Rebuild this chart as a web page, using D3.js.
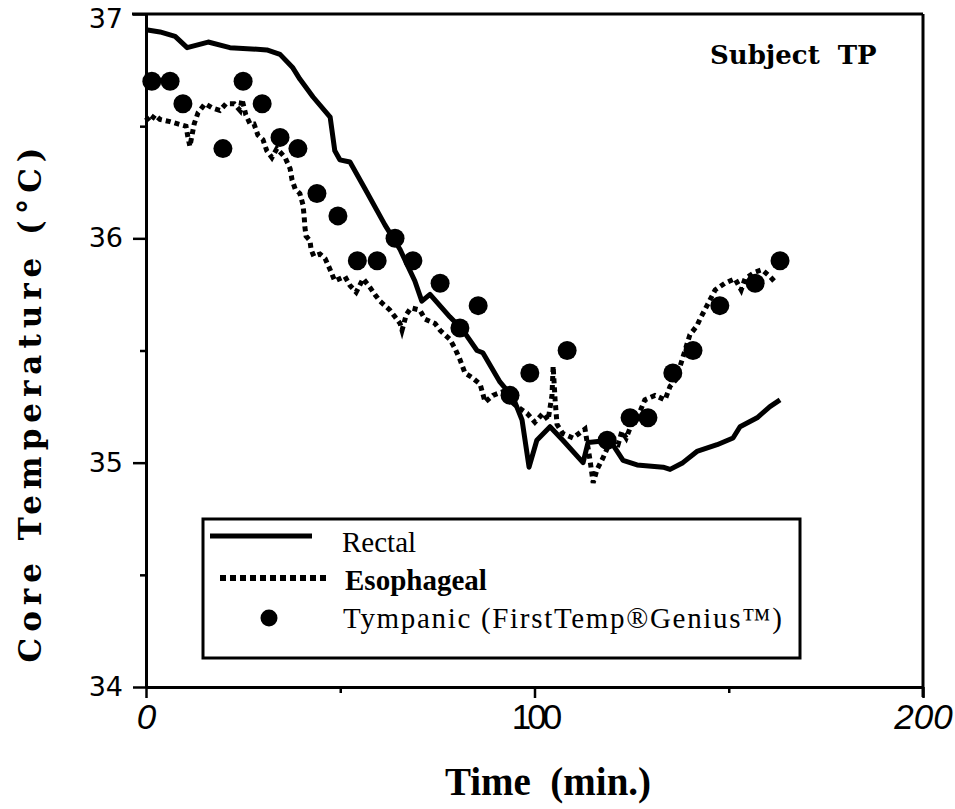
<!DOCTYPE html>
<html>
<head>
<meta charset="utf-8">
<script src="https://cdn.jsdelivr.net/npm/d3@7"></script>
<style>
  body { margin: 0; background: #fff; }
  svg { display: block; }
</style>
</head>
<body>
<div id="chart"></div>
<script>
// Values: [time (min), core temperature (°C)]
var rectal = [
  [0, 36.93], [3.6, 36.92], [7.5, 36.90], [10.6, 36.85], [16.0, 36.875], [21.6, 36.85],
  [31.1, 36.84], [34.5, 36.82], [37.8, 36.76], [39.6, 36.71], [43.0, 36.63], [47.4, 36.54],
  [48.6, 36.39], [49.9, 36.35], [52.5, 36.34], [56.4, 36.22], [61.5, 36.06], [65.4, 35.95],
  [69.2, 35.81], [71.0, 35.72], [73.1, 35.75], [78.2, 35.65], [81.6, 35.59], [85.2, 35.50],
  [86.7, 35.49], [91.1, 35.36], [94.5, 35.29], [96.8, 35.19], [98.6, 34.98], [100.6, 35.10],
  [104.0, 35.16], [107.3, 35.10], [112.5, 35.00], [113.8, 35.09], [119.4, 35.10], [122.8, 35.01],
  [126.4, 34.99], [133.1, 34.98], [134.9, 34.97], [138.2, 35.00], [141.8, 35.05], [147.0, 35.08],
  [151.1, 35.11], [152.9, 35.16], [157.3, 35.20], [160.6, 35.25], [163.2, 35.28]
];

var esophageal = [
  [0, 36.54], [1.0, 36.52], [2.3, 36.55], [3.6, 36.53], [6.2, 36.52], [8.2, 36.51],
  [10.3, 36.50], [10.8, 36.45], [11.3, 36.41], [12.4, 36.51], [13.4, 36.56], [15.2, 36.60],
  [17.2, 36.58], [19.0, 36.57], [20.6, 36.60], [22.7, 36.60], [24.2, 36.57], [24.7, 36.62],
  [25.7, 36.55], [26.8, 36.51], [27.8, 36.51], [28.8, 36.46], [30.1, 36.44], [31.1, 36.39],
  [32.4, 36.36], [33.7, 36.40], [35.8, 36.36], [37.1, 36.31], [37.6, 36.26], [38.4, 36.22],
  [39.6, 36.20], [40.4, 36.15], [40.7, 36.10], [40.9, 36.05], [41.2, 36.01], [42.2, 35.99],
  [42.5, 35.95], [43.2, 35.92], [44.8, 35.93], [46.1, 35.91], [47.4, 35.86], [48.6, 35.81],
  [51.2, 35.83], [52.5, 35.79], [54.1, 35.76], [55.9, 35.82], [57.7, 35.78], [58.9, 35.75],
  [60.2, 35.72], [61.5, 35.70], [62.8, 35.68], [64.1, 35.65], [65.4, 35.62], [65.9, 35.59],
  [67.0, 35.66], [68.2, 35.69], [70.5, 35.68], [71.8, 35.64], [74.4, 35.62], [75.7, 35.59],
  [78.2, 35.55], [79.5, 35.51], [80.8, 35.46], [82.1, 35.40], [83.9, 35.38], [86.0, 35.35],
  [87.3, 35.27], [89.3, 35.30], [92.4, 35.32], [94.2, 35.27], [95.5, 35.25], [98.1, 35.22],
  [100.1, 35.18], [102.2, 35.22], [103.5, 35.19], [104.5, 35.30], [104.8, 35.43], [105.3, 35.28],
  [105.8, 35.17], [107.3, 35.13], [109.9, 35.11], [113.0, 35.15], [114.3, 35.01], [115.1, 34.91],
  [116.1, 34.97], [117.6, 35.02], [119.4, 35.09], [121.5, 35.08], [122.5, 35.14], [123.6, 35.11],
  [125.4, 35.19], [127.2, 35.23], [128.4, 35.28], [131.0, 35.30], [133.6, 35.28], [134.9, 35.34],
  [136.4, 35.37], [138.2, 35.47], [140.0, 35.57], [141.8, 35.61], [142.6, 35.64], [144.4, 35.70],
  [146.5, 35.77], [149.0, 35.80], [151.6, 35.82], [153.2, 35.77], [154.2, 35.82], [156.8, 35.85],
  [158.6, 35.86], [160.6, 35.83], [162.2, 35.80]
];

var tympanic = [
  [1.5, 36.7], [6.2, 36.7], [9.5, 36.6], [19.8, 36.4], [25.0, 36.7], [29.9, 36.6],
  [34.5, 36.45], [39.1, 36.4], [44.0, 36.2], [49.4, 36.1], [54.4, 35.9], [59.5, 35.9],
  [64.1, 36.0], [68.7, 35.9], [75.7, 35.8], [80.8, 35.6], [85.5, 35.7], [93.7, 35.3],
  [98.8, 35.4], [108.4, 35.5], [118.7, 35.1], [124.6, 35.2], [129.2, 35.2], [135.6, 35.4],
  [140.8, 35.5], [147.7, 35.7], [156.8, 35.8], [163.2, 35.9]
];

var yTicks = [34, 35, 36, 37];
var yMinorTicks = [34.5, 35.5, 36.5];
var xTicks = [0, 100, 200];
var xMinorTicks = [50, 150];
var legendLabels = ["Rectal", "Esophageal", "Tympanic (FirstTemp®Genius™)"];

// Margins and plot area
var margin = { top: 14, right: 32, bottom: 122, left: 146 },
    width = 955 - margin.left - margin.right,
    height = 809 - margin.top - margin.bottom;

var svg = d3.select('#chart').append('svg')
    .attr('width', 955)
    .attr('height', 809)
  .append('g')
    .attr('transform', 'translate(' + margin.left + ',' + margin.top + ')');

var x = d3.scaleLinear().domain([0, 200]).range([0, width]);
var y = d3.scaleLinear().domain([34, 37]).range([height, 0]);

// frame top and right
svg.append("line")
    .attr("x1", -14).attr("x2", width)
    .attr("y1", 0).attr("y2", 0)
    .attr("stroke", "#000").attr("stroke-width", 3);
svg.append("line")
    .attr("x1", width).attr("x2", width)
    .attr("y1", 0).attr("y2", height + 10)
    .attr("stroke", "#000").attr("stroke-width", 3);

// Y axis
var yAxis = svg.append("g")
    .call(d3.axisLeft(y).tickValues(yTicks).tickSize(13).tickSizeOuter(0)
      .tickPadding(10).tickFormat(d3.format("d")));
svg.append("g")
    .call(d3.axisLeft(y).tickValues(yMinorTicks).tickSize(6).tickSizeOuter(0).tickFormat(""));
yAxis.selectAll("text")
    .attr("font-family", "DejaVu Sans")
    .attr("font-size", 27)
    .attr("fill", "#000")
    .attr("dy", function (d) { return d === 37 ? "0.5em" : "0.32em"; });

// X axis
var xAxis = svg.append("g")
    .attr("transform", "translate(0," + height + ")")
    .call(d3.axisBottom(x).tickValues(xTicks).tickSize(11).tickSizeOuter(0).tickPadding(6));
svg.append("g")
    .attr("transform", "translate(0," + height + ")")
    .call(d3.axisBottom(x).tickValues(xMinorTicks).tickSize(6).tickSizeOuter(0).tickFormat(""));
xAxis.selectAll("text")
    .attr("font-family", "Liberation Sans")
    .attr("font-size", 35)
    .attr("fill", "#000")
    .style("font-style", function (d) { return d === 100 ? "normal" : "italic"; })
    .attr("letter-spacing", function (d) { return d === 100 ? -4 : 0; });

svg.selectAll(".domain").attr("stroke-width", 3);
svg.selectAll(".tick line").attr("stroke-width", 2.5);

// Series
var line = d3.line()
    .x(function (d) { return x(d[0]); })
    .y(function (d) { return y(d[1]); });

svg.append("path")
    .datum(esophageal)
    .attr("d", line)
    .attr("fill", "none")
    .attr("stroke", "#000")
    .attr("stroke-width", 5)
    .attr("stroke-dasharray", "5,4");

svg.append("path")
    .datum(rectal)
    .attr("d", line)
    .attr("fill", "none")
    .attr("stroke", "#000")
    .attr("stroke-width", 5)
    .attr("stroke-linejoin", "round");

svg.selectAll("circle.tymp")
    .data(tympanic)
    .enter().append("circle")
    .attr("class", "tymp")
    .attr("r", 9.5)
    .attr("fill", "#000")
    .attr("cx", function (d) { return x(d[0]); })
    .attr("cy", function (d) { return y(d[1]); });

// Subject label
svg.append("text")
    .attr("x", 564).attr("y", 50)
    .attr("font-family", "DejaVu Serif")
    .attr("font-weight", "bold")
    .attr("font-size", 26)
    .style("white-space", "pre")
    .text("Subject  TP");

// Legend
var legend = svg.append("g").attr("transform", "translate(57,505)");
legend.append("rect")
    .attr("width", 597).attr("height", 139)
    .attr("fill", "#fff")
    .attr("stroke", "#000").attr("stroke-width", 3);
legend.append("line")
    .attr("x1", 7).attr("x2", 109).attr("y1", 17).attr("y2", 17)
    .attr("stroke", "#000").attr("stroke-width", 5);
legend.append("line")
    .attr("x1", 17).attr("x2", 126).attr("y1", 59).attr("y2", 59)
    .attr("stroke", "#000").attr("stroke-width", 6)
    .attr("stroke-dasharray", "6,4");
legend.append("circle")
    .attr("cx", 66).attr("cy", 99).attr("r", 8.5)
    .attr("fill", "#000");
legend.selectAll("text.lab")
    .data(legendLabels)
    .enter().append("text")
    .attr("class", "lab")
    .attr("x", function (d, i) { return [139, 142, 140][i]; })
    .attr("y", function (d, i) { return 33 + i * 38; })
    .attr("font-family", "Liberation Serif")
    .attr("font-size", 29)
    .attr("font-weight", function (d, i) { return i === 1 ? "bold" : "normal"; })
    .attr("textLength", function (d, i) { return i === 2 ? 439 : null; })
    .text(function (d) { return d; });

// Axis titles
svg.append("text")
    .attr("transform", "translate(" + (41 - margin.left) + "," + (405 - margin.top) + ") rotate(-90)")
    .attr("text-anchor", "middle")
    .attr("font-family", "DejaVu Serif")
    .attr("font-weight", "bold")
    .attr("font-size", 31)
    .attr("textLength", 515)
    .attr("lengthAdjust", "spacing")
    .text("Core Temperature (°C)");

svg.append("text")
    .attr("x", 548 - margin.left).attr("y", 795 - margin.top)
    .attr("text-anchor", "middle")
    .attr("font-family", "Liberation Serif")
    .attr("font-weight", "bold")
    .attr("font-size", 39)
    .style("white-space", "pre")
    .text("Time  (min.)");
</script>
</body>
</html>
